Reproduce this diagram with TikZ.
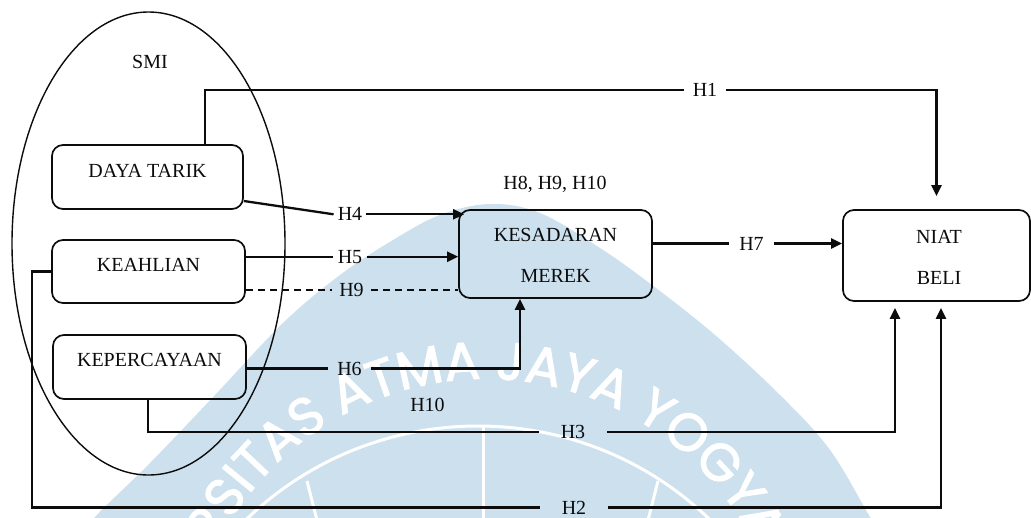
\documentclass[tikz,border=0pt]{standalone}
\usepackage{fontspec}
\setmainfont{Liberation Serif}
\newfontfamily\wmfont{Poppins}[FakeBold=2]
\usetikzlibrary{arrows.meta,calc,shapes.geometric,decorations.text}
\definecolor{wmblue}{RGB}{205,224,238}
\definecolor{ink}{RGB}{12,12,12}
\begin{document}
\begin{tikzpicture}[x=1pt,y=-1pt,
  every node/.style={font=\fontsize{20}{24}\selectfont, text=ink},
  box/.style={draw=ink, line width=1.7pt, rounded corners=11pt, rectangle, inner sep=0pt},
  conn/.style={draw=ink, line width=2.3pt},
  arr/.style={conn, -{Triangle[length=11pt,width=10pt]}},
  dashconn/.style={draw=ink, line width=1.9pt, dash pattern=on 7pt off 5pt},
  hl/.style={inner ysep=2pt, inner xsep=#1},
  hl/.default=5pt]
\useasboundingbox (0,0) rectangle (1031,517);

% faint university seal in the background
\begin{scope}
  \clip (0,0) rectangle (1031,517);
  \fill[wmblue] plot[smooth, tension=0.6] coordinates {(80,540) (95,517) (150,463) (215,395) (283,323) (340,275) (393,240) (440,215) (490,204) (540,213) (600,248) (652,285) (715,335) (780,395) (830,450) (870,517) (885,540)} -- cycle;
  \draw[white, line width=3pt] (478,760) ++(225:334) arc[start angle=225, end angle=315, radius=334];
  \draw[white, line width=3pt] (483,427) -- (483,540);
  \draw[white, line width=3pt] (307,481) -- (322,540);
  \draw[white, line width=3pt] (658,481) -- (643,540);
  \path[decorate, decoration={text along path, text align=center, text color=white,
      text={|\wmfont\fontsize{53}{53}\selectfont|UNIVERSITAS ATMA JAYA YOGYAKARTA}}]
    (486,680) ++(151.2:301) arc[start angle=151.2, end angle=391.2, radius=301];
\end{scope}

% SMI group
\node[draw=ink, line width=1.4pt, ellipse, minimum width=273pt, minimum height=463pt, inner sep=0pt] (smi) at (148.5,243.5) {};
\node (smit) at (150,62) {SMI};

% construct boxes
\node[box, minimum width=191pt, minimum height=64pt] (daya) at (147.5,177) {};
\node (dayat) at (147.5,170.5) {DAYA TARIK};
\node[box, minimum width=193pt, minimum height=63pt] (keah) at (148.5,271.5) {};
\node (keaht) at (148.5,264.5) {KEAHLIAN};
\node[box, minimum width=193pt, minimum height=64pt] (kep) at (149.5,367) {};
\node (kept) at (149.5,360) {KEPERCAYAAN};
\node[box, minimum width=193pt, minimum height=88pt] (kes) at (555.5,254) {};
\node (kes1) at (555.5,235) {KESADARAN};
\node (kes2) at (555.5,275.5) {MEREK};
\node[box, minimum width=187pt, minimum height=91pt] (niat) at (936.5,255.5) {};
\node (niat1) at (939,236.5) {NIAT};
\node (niat2) at (939,277.5) {BELI};

% path labels
\node[hl=8.5pt] (h1) at (705,90) {H1};
\node[hl=4pt] (h4) at (350,214.3) {H4};
\node[hl=5pt] (h5) at (350,256.7) {H5};
\node[hl=7pt] (h9) at (351.5,290) {H9};
\node[hl=9pt] (h6) at (349.5,368.5) {H6};
\node[hl=10pt] (h7) at (751.5,243.5) {H7};
\node[hl=22pt] (h3) at (573,431.7) {H3};
\node[hl=22pt] (h2) at (574,507.5) {H2};
\node (h10) at (427.5,405) {H10};
\node (hmed) at (555,184) {H8, H9, H10};

% H1
\draw[conn] ([xshift=57.5pt]daya.north) |- (h1.west);
\draw[arr] (h1.east) -| ([yshift=13pt]niat.north);
% H4
\draw[conn] ([yshift=-24pt]daya.east) -- (h4.west);
\draw[arr] (h4.east) -- ($(h4.east -| kes.west)+(6,0)$);
% H5
\draw[conn] (keah.east |- h5) -- (h5.west);
\draw[arr] (h5.east) -- (h5.east -| kes.west);
% H9
\draw[dashconn] (keah.east |- h9) -- (h9.west);
\draw[dashconn] (h9.east) -- (h9.east -| kes.west);
% H6
\draw[conn] (kep.east |- h6) -- (h6.west);
\draw[arr] (h6.east) -| ($(kes.south)+(-35.5,0)$);
% H7
\draw[conn] (kes.east |- h7) -- (h7.west);
\draw[arr] (h7.east) -- (h7.east -| niat.west);
% H3
\draw[conn] ($(kep.south)+(-1.5,0)$) |- (h3.west);
\draw[arr] (h3.east) -| ($(niat.south)+(-41.5,6)$);
% H2
\draw[conn] (keah.west) -- ++(-19,0) |- (h2.west);
\draw[arr] (h2.east) -| ($(niat.south)+(4.5,6)$);
\end{tikzpicture}
\end{document}
